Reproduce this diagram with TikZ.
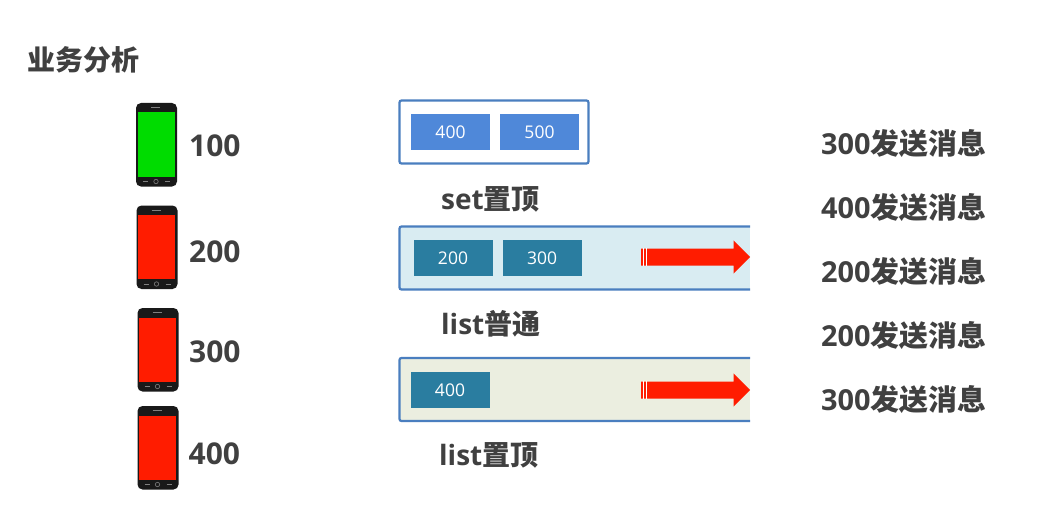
\documentclass[tikz,border=0pt]{standalone}
\usepackage{fontspec}
\usepackage{xcolor}
\usetikzlibrary{shapes.arrows}
\setmainfont{Open Sans}
\newfontfamily\cjkfont{Noto Sans CJK SC}
\definecolor{textgray}{HTML}{404040}
\definecolor{boxblue}{HTML}{4F88D9}
\definecolor{boxteal}{HTML}{2A7DA0}
\definecolor{edgeblue}{HTML}{4A7EBF}
\definecolor{listblue}{HTML}{D9ECF2}
\definecolor{listgreen}{HTML}{EBEEE0}
\definecolor{arrowred}{HTML}{FF1C00}
\definecolor{phonegreen}{HTML}{00DC00}
\tikzset{
    big-label/.style = {anchor=west, inner sep=0pt, text=textgray, font=\fontsize{30}{32}\selectfont\bfseries},
    cn-label/.style = {anchor=west, inner sep=0pt, text=textgray, font=\fontsize{28}{32}\selectfont\bfseries},
    msg-label/.style = {anchor=west, inner sep=0pt, text=textgray, font=\fontsize{28.9}{32}\selectfont\bfseries},
    item-box/.style = {rectangle, minimum width=79pt, minimum height=36pt, inner sep=0pt, text=white, font=\fontsize{17.5}{20}\selectfont},
    edge-line/.style = {draw=edgeblue, line width=2.2pt, rounded corners=2pt},
    red-arrow/.style = {single arrow, fill=arrowred, inner xsep=0pt, inner ysep=8.3pt, minimum height=109pt, single arrow head extend=8.2pt, single arrow head indent=0pt, anchor=west},
    phone-body/.style = {fill=black!90, rounded corners=5pt},
    pics/phone/.style = {code={
        \fill[phone-body] (0,0) rectangle (41,83.5);
        \fill[#1] (1.8,9.5) rectangle (38.8,73.5);
        \draw[gray, line width=0.5pt] (15,4.5) -- (24,4.5);
        \draw[gray, line width=0.6pt] (20,78.5) circle (2.2);
        \draw[gray, line width=0.6pt] (7,78.5) -- (12,78.5) (29,78.5) -- (34,78.5);
    }},
}
\begin{document}
\begin{tikzpicture}[x=1pt, y=-1pt]
\useasboundingbox (0,0) rectangle (1040,516);
\fill[white] (0,0) rectangle (1040,516);
\node[cn-label] (title) at (27,60) {\cjkfont 业务分析};

% phones
\pic at (136,103) {phone=phonegreen};
\pic at (136.5,205.5) {phone=arrowred};
\pic at (137.5,308) {phone=arrowred};
\pic at (137.5,406) {phone=arrowred};
\node[big-label] (user100) at (189,145.5) {100};
\node[big-label] (user200) at (189,251.5) {200};
\node[big-label] (user300) at (189,351.5) {300};
\node[big-label] (user400) at (188.5,453.5) {400};

% set
\draw[edge-line, fill=white] (399.5,100.5) rectangle (588.5,163.5);
\node[item-box, fill=boxblue] (set400) at (450.5,132) {400};
\node[item-box, fill=boxblue] (set500) at (539.5,132) {500};
\node[cn-label] (setname) at (441,199) {set{\cjkfont 置顶}};

% list
\fill[listblue] (399.5,226.5) rectangle (750,289.5);
\draw[edge-line] (750,226.5) -- (399.5,226.5) -- (399.5,289.5) -- (750,289.5);
\node[item-box, fill=boxteal] (list200) at (453,258) {200};
\node[item-box, fill=boxteal] (list300) at (542,258) {300};
\node[red-arrow] (arrowa) at (641,257) {};
\draw[white, line width=0.7pt] (643.5,248) -- (643.5,266) (646.5,248) -- (646.5,266);
\node[cn-label] (listname) at (441,324) {list{\cjkfont 普通}};

% list top
\fill[listgreen] (399.5,358) rectangle (750,421);
\draw[edge-line] (750,358) -- (399.5,358) -- (399.5,421) -- (750,421);
\node[item-box, fill=boxteal] (top400) at (450,390) {400};
\node[red-arrow] (arrowb) at (641,390) {};
\draw[white, line width=0.7pt] (643.5,381) -- (643.5,399) (646.5,381) -- (646.5,399);
\node[cn-label] (topname) at (439,455) {list{\cjkfont 置顶}};

% messages
\foreach \name/\num/\ypos in {msga/300/144, msgb/400/208, msgc/200/272, msgd/200/336, msge/300/400}
    \node[msg-label] (\name) at (821,\ypos) {\num{\cjkfont 发送消息}};
\end{tikzpicture}
\end{document}
